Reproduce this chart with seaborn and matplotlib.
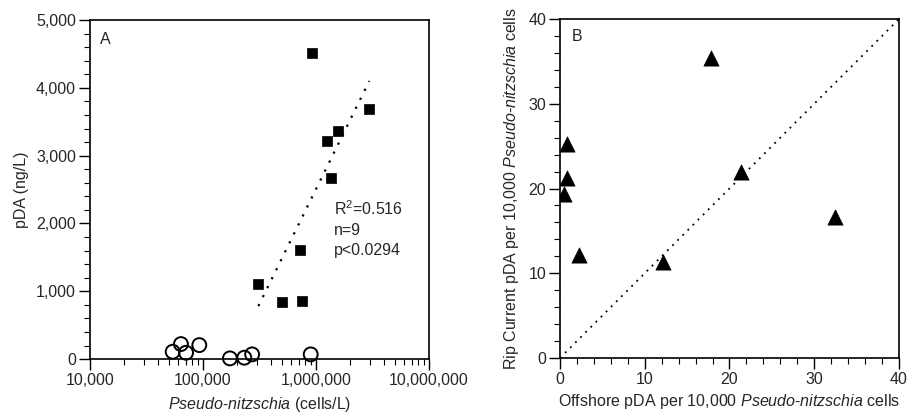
import numpy as np
import pandas as pd
import matplotlib
matplotlib.use('Agg')
import matplotlib.pyplot as plt
from matplotlib.ticker import FuncFormatter, MultipleLocator, LogLocator
import seaborn as sns

# Panel A: toxin vs cell abundance
sq_cells = [916000, 2960000, 1570000, 1260000, 1360000, 726000, 309000, 500000, 752000]
sq_pda = [4509, 3683, 3363, 3215, 2665, 1612, 1101, 841, 860]
circ_cells = [53900, 63800, 70800, 92700, 173000, 232000, 272000, 897000]
circ_pda = [108, 221, 93, 206, 10, 20, 69, 69]

# Panel B: rip current vs offshore pDA per 10,000 cells
offshore = [17.8, 0.78, 0.78, 0.51, 2.28, 12.15, 21.4, 32.45]
ripcurrent = [35.4, 25.2, 21.3, 19.35, 12.15, 11.3, 21.9, 16.6]

stats_text = 'R$^{\\mathregular{2}}$=0.516\nn=9\np<0.0294'

sns.set_theme(style='ticks')
plt.rcParams['font.family'] = ['Liberation Sans', 'DejaVu Sans']
plt.rcParams['mathtext.fontset'] = 'custom'
plt.rcParams['mathtext.rm'] = 'Liberation Sans'
plt.rcParams['mathtext.it'] = 'Liberation Sans:italic'
plt.rcParams['axes.linewidth'] = 1.2

FS = 11.5

df_sq = pd.DataFrame({'cells': sq_cells, 'pda': sq_pda})
df_circ = pd.DataFrame({'cells': circ_cells, 'pda': circ_pda})
df_b = pd.DataFrame({'offshore': offshore, 'rip': ripcurrent})

fig = plt.figure(figsize=(9.09, 4.18), dpi=100)
ax1 = fig.add_axes([0.099, 0.141, 0.373, 0.811])
ax2 = fig.add_axes([0.616, 0.1435, 0.373, 0.811])

# ---- Panel A
ax1.set_xscale('log')
sns.regplot(data=df_sq, x='cells', y='pda', logx=True, ci=None, scatter=False,
            truncate=True, ax=ax1,
            line_kws={'color': 'black', 'linestyle': (0, (1, 3.5)), 'linewidth': 1.6})
sns.scatterplot(data=df_sq, x='cells', y='pda', marker='s', s=60, color='black',
                edgecolor='black', linewidth=0.5, ax=ax1, zorder=3)
sns.scatterplot(data=df_circ, x='cells', y='pda', marker='o', s=100, facecolor='none',
                edgecolor='black', linewidth=1.4, ax=ax1, zorder=3, clip_on=False)
ax1.set_xlim(1e4, 1e7)
ax1.set_ylim(0, 5000)
ax1.yaxis.set_major_locator(MultipleLocator(1000))
ax1.yaxis.set_minor_locator(MultipleLocator(200))
ax1.xaxis.set_major_locator(LogLocator(base=10))
ax1.xaxis.set_minor_locator(LogLocator(base=10, subs=np.arange(2, 10)))
comma = FuncFormatter(lambda v, p: f'{v:,.0f}')
ax1.xaxis.set_major_formatter(comma)
ax1.xaxis.set_minor_formatter(FuncFormatter(lambda v, p: ''))
ax1.yaxis.set_major_formatter(comma)
ax1.set_xlabel(r'$\mathit{Pseudo}$-$\mathit{nitzschia}$ (cells/L)', fontsize=FS, labelpad=5)
ax1.set_ylabel('pDA (ng/L)', fontsize=FS, labelpad=5)
ax1.text(0.03, 0.965, 'A', transform=ax1.transAxes, fontsize=FS, va='top', ha='left')
ax1.text(0.72, 0.47, stats_text, transform=ax1.transAxes, fontsize=FS,
         va='top', ha='left', linespacing=1.4)

# ---- Panel B
sns.lineplot(x=[0, 40], y=[0, 40], color='black', linestyle=(0, (1, 3)),
             linewidth=1.3, ax=ax2)
sns.scatterplot(data=df_b, x='offshore', y='rip', marker='^', s=120, color='black',
                edgecolor='black', linewidth=0.5, ax=ax2, zorder=3)
ax2.set_xlim(0, 40)
ax2.set_ylim(0, 40)
for axis in (ax2.xaxis, ax2.yaxis):
    axis.set_major_locator(MultipleLocator(10))
    axis.set_minor_locator(MultipleLocator(2))
ax2.set_xlabel(r'Offshore pDA per 10,000 $\mathit{Pseudo}$-$\mathit{nitzschia}$ cells',
               fontsize=FS, labelpad=4)
ax2.set_ylabel(r'Rip Current pDA per 10,000 $\mathit{Pseudo}$-$\mathit{nitzschia}$ cells',
               fontsize=FS, labelpad=5)
ax2.text(0.035, 0.97, 'B', transform=ax2.transAxes, fontsize=FS, va='top', ha='left')

for ax in (ax1, ax2):
    for sp in ax.spines.values():
        sp.set_visible(True)
        sp.set_linewidth(1.2)
        sp.set_color('black')
    ax.tick_params(which='major', direction='out', length=8, width=1.0,
                   labelsize=FS, color='black', pad=2)
    ax.tick_params(which='minor', direction='out', length=4, width=0.8, color='black')
    ax.tick_params(top=False, right=False, which='both')
    ax.set_facecolor('white')

fig.savefig('out.png', dpi=100, facecolor='white')
